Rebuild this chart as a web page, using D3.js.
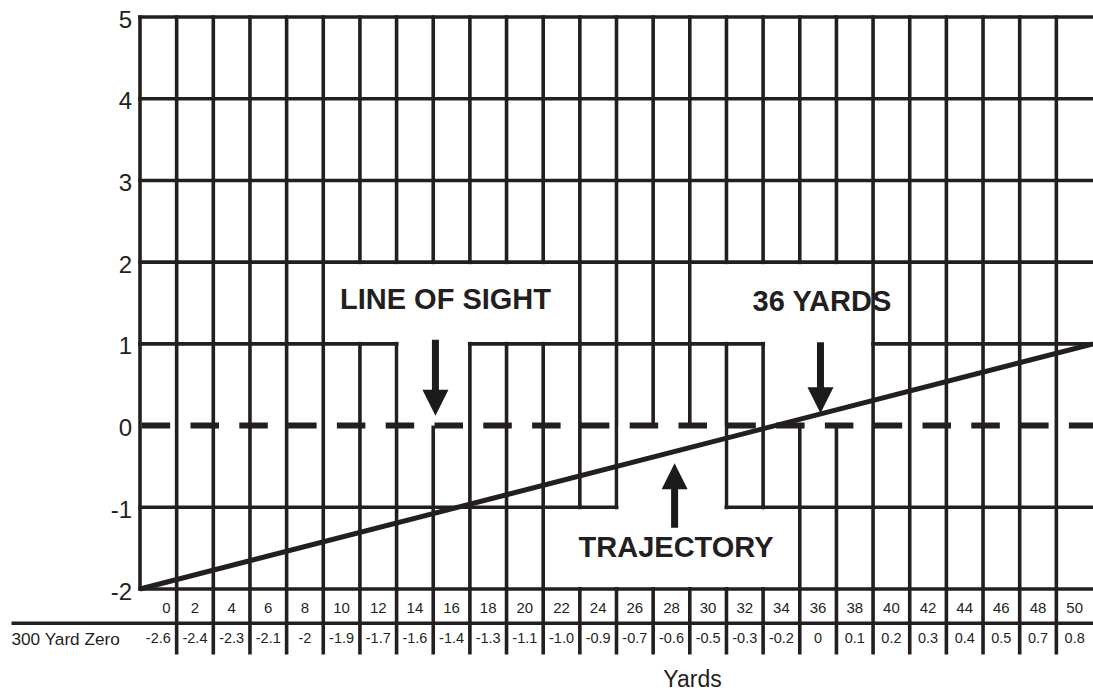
<!DOCTYPE html>
<html><head><meta charset="utf-8">
<script src="https://cdn.jsdelivr.net/npm/d3@7"></script>
<style>
html,body{margin:0;padding:0;background:#fff;}
svg{display:block;font-family:"Liberation Sans",Arial,Helvetica,sans-serif;}
</style></head><body>
<svg id="chart" width="1093" height="692"></svg>
<script>
// Distance columns (yards) and the 300-yard-zero drop row under them
const yards = [0,2,4,6,8,10,12,14,16,18,20,22,24,26,28,30,32,34,36,38,40,42,44,46,48,50];
const zero300 = ["-2.6","-2.4","-2.3","-2.1","-2","-1.9","-1.7","-1.6","-1.4","-1.3","-1.1","-1.0","-0.9","-0.7","-0.6","-0.5","-0.3","-0.2","0","0.1","0.2","0.3","0.4","0.5","0.7","0.8"];
const heightTicks = [-2,-1,0,1,2,3,4,5];
// Schematic lines, in (yard, height) units
const trajectory = [{yard:-1,height:-2},{yard:51,height:1}];
const lineOfSight = [{yard:-1,height:0},{yard:51,height:0}];
// Callouts: white box in the grid, a notch for the arrow, the arrow and its label
const callouts = [
  {text:"LINE OF SIGHT", box:{x0:9,x1:23,y0:1,y1:2}, notch:{x0:13,x1:17,y0:0,y1:1,edge:1},
   arrow:{yard:15.12,from:1.05,to:0.12}, label:{yard:15.67,height:1.427}},
  {text:"36 YARDS", box:{x0:29,x1:39,y0:1,y1:2}, notch:{x0:33,x1:39,y0:0,y1:1,edge:1},
   arrow:{yard:36.13,from:1.02,to:0.15}, label:{yard:36.21,height:1.408}},
  {text:"TRAJECTORY", box:{x0:21,x1:35,y0:-2,y1:-1}, notch:{x0:25,x1:31,y0:-1,y1:0,edge:-1},
   arrow:{yard:28.17,from:-1.25,to:-0.46}, label:{yard:28.25,height:-1.612}}
];

const ink = "#231f20";
const svg = d3.select("#chart");
const plotLeft = 140, plotRight = 1093, plotTop = 17, plotBottom = 589;
const x = d3.scaleLinear().domain([-1, 51]).range([plotLeft, plotRight]);
const y = d3.scaleLinear().domain([-2, 5]).range([plotBottom, plotTop]);
const gridW = 3.6, hw = gridW / 2;
const row1Line = 623.3, tableBottom = 654.5;

// Column borders sit halfway between yard labels
const edges = d3.range(0, 26).map(k => -1 + 2 * k);

const grid = svg.append("g").attr("stroke", ink).attr("stroke-width", gridW).attr("fill", "none");
grid.selectAll("line.v").data(edges).join("line")
  .attr("class", "v")
  .attr("x1", d => x(d)).attr("x2", d => x(d))
  .attr("y1", y(5) - hw)
  .attr("y2", d => d === -1 ? y(-2) + hw : tableBottom);
// the zero level is drawn only as the dashed line of sight
grid.selectAll("line.h").data(heightTicks.filter(d => d !== 0)).join("line")
  .attr("class", "h")
  .attr("x1", x(-1) - hw).attr("x2", plotRight)
  .attr("y1", d => y(d)).attr("y2", d => y(d));
// table divider between yard row and drop row
grid.append("line")
  .attr("x1", 11.5).attr("x2", plotRight)
  .attr("y1", row1Line).attr("y2", row1Line);

// White-out areas for the callouts
const masks = svg.append("g").attr("fill", "#fff");
callouts.forEach(c => {
  const b = c.box;
  masks.append("rect")
    .attr("x", x(b.x0) + hw + 0.2).attr("width", x(b.x1) - x(b.x0) - gridW - 0.4)
    .attr("y", y(b.y1) + hw + 0.2).attr("height", y(b.y0) - y(b.y1) - gridW - 0.4);
  const n = c.notch;
  let yt = y(n.y1), yb = y(n.y0);
  if (n.edge === n.y1) yt -= hw + 1; else yb += hw + 1;
  masks.append("rect")
    .attr("x", x(n.x0) + hw + 0.2).attr("width", x(n.x1) - x(n.x0) - gridW - 0.4)
    .attr("y", yt).attr("height", yb - yt);
});

// Line of sight (dashed) and trajectory
const line = d3.line().x(d => x(d.yard)).y(d => y(d.height));
svg.append("path").datum(lineOfSight)
  .attr("d", line).attr("fill", "none").attr("stroke", ink)
  .attr("stroke-width", 6).attr("stroke-dasharray", "28.5 20.3")
  .attr("transform", "translate(1.7,0)");
svg.append("path").datum(trajectory)
  .attr("d", line).attr("fill", "none").attr("stroke", ink)
  .attr("stroke-width", 5).attr("stroke-linecap", "butt");

// Arrows and callout labels
const headLen = 26, headW = 26, shaftW = 7;
callouts.forEach(c => {
  const a = c.arrow;
  const ax = x(a.yard), y0 = y(a.from), y1 = y(a.to);
  const dir = y1 > y0 ? 1 : -1;
  const base = y1 - dir * headLen;
  svg.append("path")
    .attr("d", `M${ax - shaftW/2},${y0} L${ax + shaftW/2},${y0} L${ax + shaftW/2},${base} L${ax + headW/2},${base} L${ax},${y1} L${ax - headW/2},${base} L${ax - shaftW/2},${base} Z`)
    .attr("fill", "#1c1a1a");
  svg.append("text")
    .attr("x", x(c.label.yard)).attr("y", y(c.label.height))
    .attr("text-anchor", "middle").attr("font-weight", "bold")
    .attr("font-size", 29).attr("fill", ink)
    .text(c.text);
});

// Height axis labels
const yAxis = svg.append("g").attr("transform", `translate(${plotLeft},0)`)
  .call(d3.axisLeft(y).tickValues(heightTicks).tickSize(0).tickPadding(8).tickFormat(d => String(d)));
yAxis.select(".domain").remove();
yAxis.attr("font-size", 24).attr("font-family", "'Liberation Sans',Arial,sans-serif");
yAxis.selectAll("text").attr("fill", ink).attr("dy", "0.42em");

// Table rows
svg.append("g").selectAll("text").data(yards).join("text")
  .attr("x", (d, i) => x(d) + (i === 0 ? 8 : 0)).attr("y", 612.7)
  .attr("text-anchor", "middle").attr("font-size", 15).attr("fill", ink)
  .text(d => d);
svg.append("g").selectAll("text").data(zero300).join("text")
  .attr("x", (d, i) => x(yards[i])).attr("y", 643.3)
  .attr("text-anchor", "middle").attr("font-size", 14.5).attr("fill", ink)
  .text(d => d);
svg.append("text").attr("x", 11.5).attr("y", 645)
  .attr("font-size", 17.2).attr("fill", ink).text("300 Yard Zero");

// Axis title
svg.append("text").attr("x", 692.5).attr("y", 686.5)
  .attr("text-anchor", "middle").attr("font-size", 23).attr("fill", ink).text("Yards");
</script>
</body></html>
